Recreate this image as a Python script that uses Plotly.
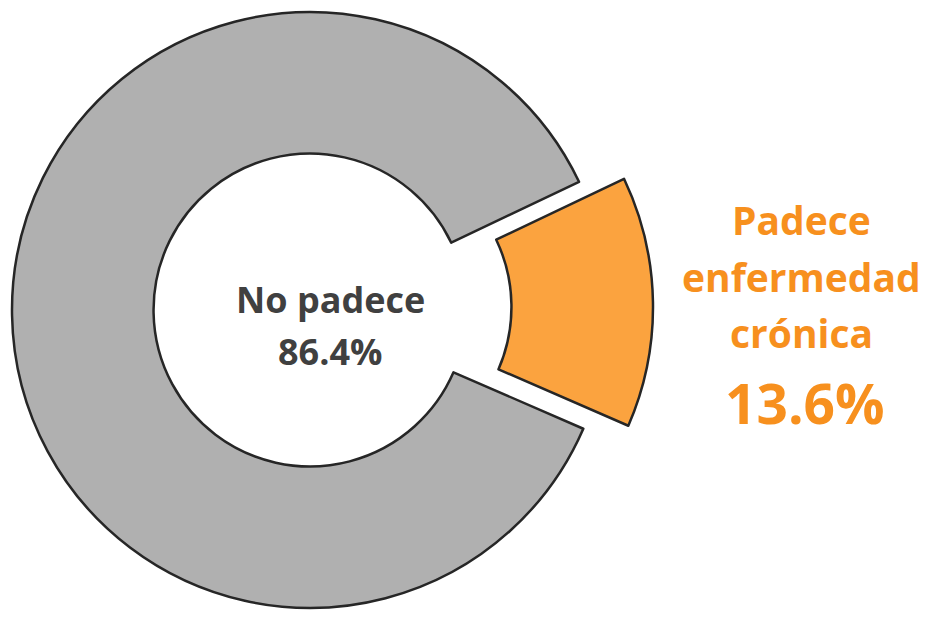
import plotly.graph_objects as go

# Data
categories = ["Padece enfermedad crónica", "No padece"]
values = [13.6, 86.4]
center_lines = ["No padece", "86.4%"]
side_lines = ["Padece", "enfermedad", "crónica"]
side_value = "13.6%"

W, H = 932, 617
OFF = 8  # page body margin offset
ORANGE_FILL = "#FBA33F"
ORANGE_TEXT = "#F7901E"
GRAY_FILL = "#B0B0B0"
EDGE = "#262626"
DARK_TEXT = "#404040"

# pie geometry (pixels, in screenshot coordinates)
cx, cy, R = 310 - OFF, 310 - OFF, 298
dx_pull, dy_pull = 45, 3
hole = 0.525
span = values[0] / sum(values) * 360
rotation = 90 - span / 2 - 1


def dom(cxp, cyp):
    return dict(x=[(cxp - R) / W, (cxp + R) / W],
                y=[(H - cyp - R) / H, (H - cyp + R) / H])


fig = go.Figure()
# gray ring (orange slice transparent)
fig.add_trace(go.Pie(
    labels=categories, values=values, sort=False, direction="clockwise",
    rotation=rotation, hole=hole, textinfo="none", hoverinfo="label+percent",
    marker=dict(colors=["rgba(0,0,0,0)", GRAY_FILL],
                line=dict(color=EDGE, width=[0, 2.5])),
    domain=dom(cx, cy), showlegend=False,
))
# orange slice, pulled out
fig.add_trace(go.Pie(
    labels=categories, values=values, sort=False, direction="clockwise",
    rotation=rotation, hole=hole, textinfo="none", hoverinfo="label+percent",
    marker=dict(colors=[ORANGE_FILL, "rgba(0,0,0,0)"],
                line=dict(color=EDGE, width=[2.5, 0])),
    domain=dom(cx + dx_pull, cy - dy_pull), showlegend=False,
))

FONT = "Open Sans"
ann = []


def add(txt, xc, ybase, size, color, shift):
    ann.append(dict(text=f"<b>{txt}</b>", x=(xc - OFF) / W, y=1 - (ybase - OFF) / H,
                    xref="paper", yref="paper", xanchor="center", yanchor="bottom",
                    showarrow=False, yshift=shift,
                    font=dict(family=FONT, size=size, color=color)))


# center label
for txt, ybase in zip(center_lines, [316, 368]):
    add(txt, 330, ybase, 36, DARK_TEXT, -10)
# side label
for txt, ybase in zip(side_lines, [237, 294, 350]):
    add(txt, 801, ybase, 39, ORANGE_TEXT, -11)
add(side_value, 805, 427, 55, ORANGE_TEXT, -15)

fig.update_layout(
    width=W, height=H, margin=dict(l=0, r=0, t=0, b=0),
    paper_bgcolor="white", plot_bgcolor="white",
    annotations=ann,
)
fig.write_html("out.html")
